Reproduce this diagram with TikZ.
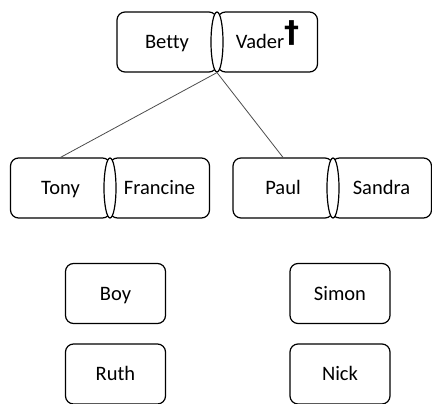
\documentclass[tikz,border=0pt]{standalone}
\usepackage{fontspec}
\setmainfont{Carlito}[Ligatures=NoCommon]
\newfontfamily\crossfont{DejaVu Sans}
\usetikzlibrary{shapes.geometric}

\begin{document}
\begin{tikzpicture}[x=1pt, y=-1pt,
    person/.style={draw, line width=1.2pt, rounded corners=8pt, minimum width=100pt, minimum height=60pt, inner sep=0pt, text height=13.5pt, text depth=0pt, font=\fontsize{20.5}{22}\selectfont},
    couple/.style={draw, ellipse, fill=white, line width=1.2pt, minimum width=12pt, minimum height=60pt, inner sep=0pt},
    link/.style={gray!60!black, line width=0.8pt}]

    \useasboundingbox (0, 0) rectangle (432, 404);

    % === Genitori ===
    \node[person] (Betty) at (167, 42) {Betty};
    \node[person] (Vader) at (267.5, 42) {Vader\smash{\crossfont\bfseries\fontsize{30}{30}\selectfont\raisebox{6pt}{†}}};
    \node[couple] (BV) at (217, 42) {};

    % === Figli con partner ===
    \node[person] (Tony) at (60.5, 188) {Tony};
    \node[person] (Francine) at (159.5, 188) {Francine};
    \node[couple] (TF) at (110, 188) {};

    \node[person] (Paul) at (283, 188) {Paul};
    \node[person] (Sandra) at (381.5, 188) {Sandra};
    \node[couple] (PS) at (333, 188) {};

    \draw[link] (BV.south) -- (Tony.north);
    \draw[link] (BV.south) -- (Paul.north);

    % === Nipoti ===
    \node[person] (Boy) at (115.5, 293.5) {Boy};
    \node[person] (Ruth) at (115.5, 374) {Ruth};
    \node[person] (Simon) at (340, 293.5) {Simon};
    \node[person] (Nick) at (340, 374) {Nick};

\end{tikzpicture}
\end{document}
